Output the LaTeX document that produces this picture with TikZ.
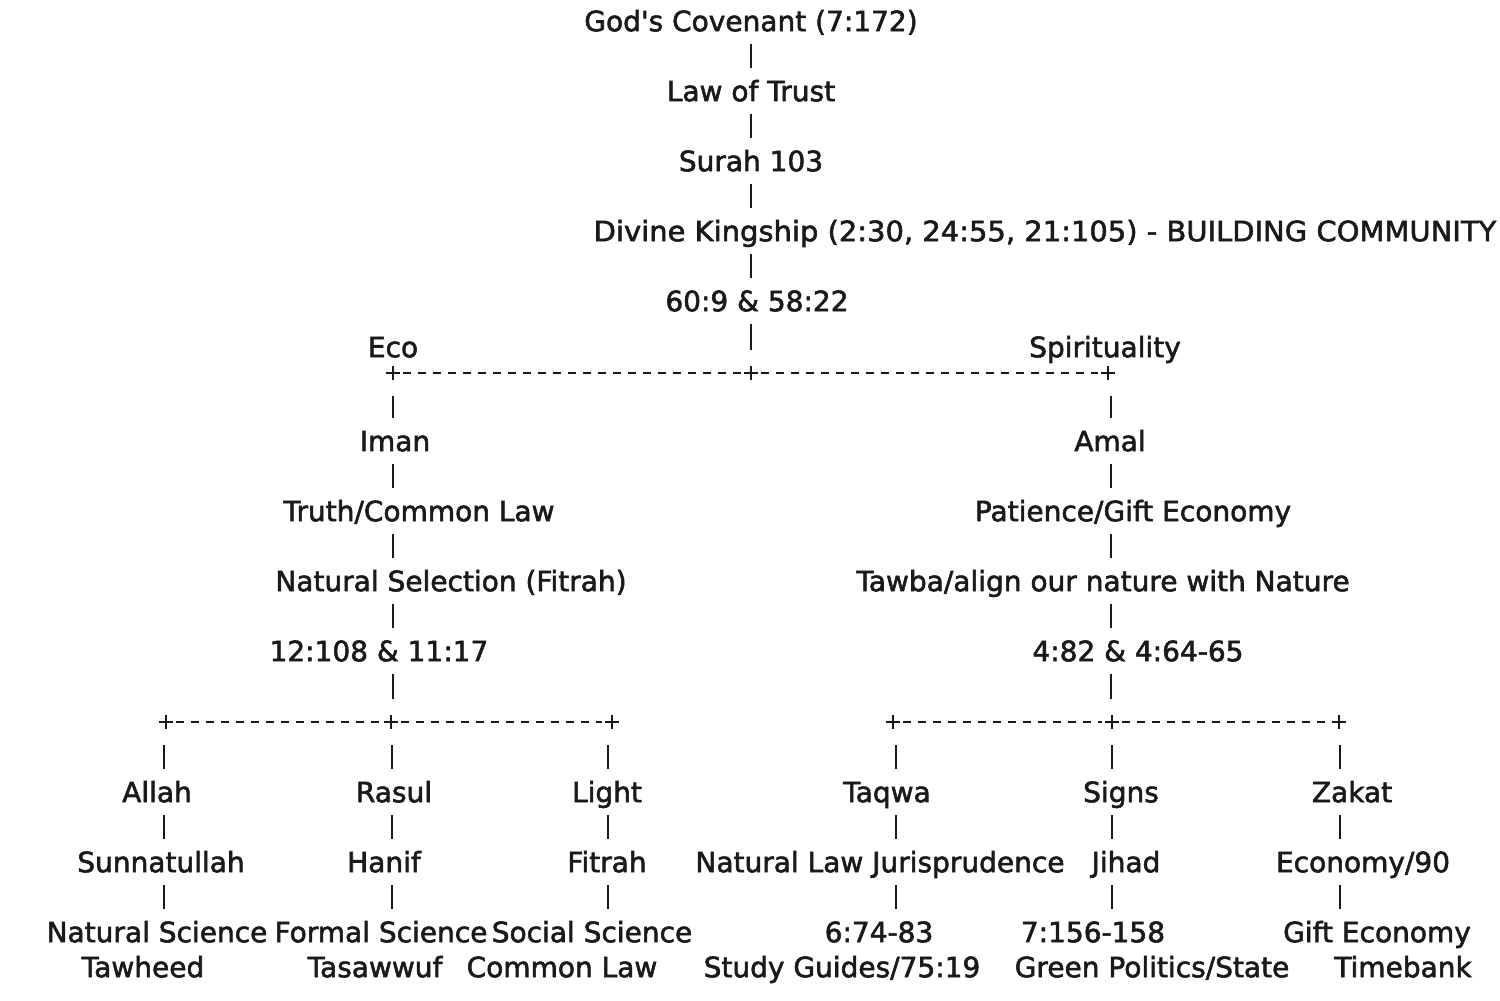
\documentclass[tikz,border=0pt]{standalone}
\usepackage{fontspec}
\setmainfont[FakeBold=2,Ligatures=TeXOff]{DejaVu Sans}
\definecolor{ink}{HTML}{1A1A1A}
\newcommand\plusmark[1]{\draw[bar,line width=2.6pt,shorten <=0pt,shorten >=0pt] (#1) ++(-7,0) -- ++(14,0) (#1) ++(0,-7) -- ++(0,14);}
\begin{document}
\begin{tikzpicture}[x=1pt,y=-1pt,
  lbl/.style={inner sep=0pt,text height=20.4pt,text depth=0pt,minimum height=46pt,
    font=\fontsize{28}{33}\selectfont,text=ink},
  lbltwo/.style={inner sep=0pt,text height=20.4pt,text depth=0pt,
    font=\fontsize{28}{33}\selectfont,text=ink},
  bar/.style={draw=ink,line width=2.6pt},
  dashline/.style={draw=ink,line width=2.6pt,dash pattern=on 8pt off 7pt,shorten <=10pt,shorten >=10pt}]
\useasboundingbox (0,0) rectangle (1500,1001);
% columns
\coordinate (cM) at (751,0);
\coordinate (cL) at (393,0);
\coordinate (cR) at (1111,0);
\coordinate (c1) at (164,0);
\coordinate (c2) at (392,0);
\coordinate (c3) at (608,0);
\coordinate (c4) at (896,0);
\coordinate (c5) at (1112,0);
\coordinate (c6) at (1340,0);
% top chain
\node[lbl] (gc) at (751,21) {God's Covenant (7:172)};
\node[lbl] (lt) at (751,91) {Law of Trust};
\node[lbl] (sr) at (751,161) {Surah 103};
\node[lbl] (dk) at (1045,231) {\scalebox{1.035}[1]{Divine Kingship (2:30, 24:55, 21:105) - BUILDING COMMUNITY}};
\node[lbl] (sx) at (757,301) {60:9 \& 58:22};
\node[lbl] (eco) at (393,347) {Eco};
\node[lbl] (spi) at (1105,347) {Spirituality};
\draw[bar] (cM |- gc.south) -- (cM |- lt.north);
\draw[bar] (cM |- lt.south) -- (cM |- sr.north);
\draw[bar] (cM |- sr.south) -- (cM |- dk.north);
\draw[bar] (cM |- dk.south) -- (cM |- sx.north);
% first split
\coordinate (jL) at (393,373);
\coordinate (jM) at (751,373);
\coordinate (jR) at (1108,373);
\draw[bar,shorten >=23pt] (cM |- sx.south) -- (jM);
\draw[dashline] (jL) -- (jM);
\draw[dashline] (jM) -- (jR);
\plusmark{jL}\plusmark{jM}\plusmark{jR}
% left branch
\node[lbl] (iman) at (395,441) {Iman};
\node[lbl] (tcl) at (419,511) {Truth/Common Law};
\node[lbl] (nsf) at (451,581) {Natural Selection (Fitrah)};
\node[lbl] (lref) at (379,651) {12:108 \& 11:17};
\draw[bar,shorten <=23pt] (jL) -- (cL |- iman.north);
\draw[bar] (cL |- iman.south) -- (cL |- tcl.north);
\draw[bar] (cL |- tcl.south) -- (cL |- nsf.north);
\draw[bar] (cL |- nsf.south) -- (cL |- lref.north);
% right branch
\node[lbl] (amal) at (1110,441) {Amal};
\node[lbl] (pge) at (1133,511) {Patience/Gift Economy};
\node[lbl] (taw) at (1103,581) {Tawba/align our nature with Nature};
\node[lbl] (rref) at (1138,651) {4:82 \& 4:64-65};
\draw[bar,shorten <=23pt] (jR -| cR) -- (cR |- amal.north);
\draw[bar] (cR |- amal.south) -- (cR |- pge.north);
\draw[bar] (cR |- pge.south) -- (cR |- taw.north);
\draw[bar] (cR |- taw.south) -- (cR |- rref.north);
% second level splits
\coordinate (ja) at (166,722);
\coordinate (jb) at (391,722);
\coordinate (jc) at (612,722);
\coordinate (jd) at (893,722);
\coordinate (je) at (1112,722);
\coordinate (jf) at (1339,722);
\draw[bar,shorten >=23pt] (cL |- lref.south) -- (jb -| cL);
\draw[bar,shorten >=23pt] (cR |- rref.south) -- (je -| cR);
\draw[dashline] (ja) -- (jb);
\draw[dashline] (jb) -- (jc);
\draw[dashline] (jd) -- (je);
\draw[dashline] (je) -- (jf);
\plusmark{ja}\plusmark{jb}\plusmark{jc}\plusmark{jd}\plusmark{je}\plusmark{jf}
% leaves row 1
\node[lbl] (allah) at (157,792) {Allah};
\node[lbl] (rasul) at (394,792) {Rasul};
\node[lbl] (light) at (607,792) {Light};
\node[lbl] (taqwa) at (887,792) {Taqwa};
\node[lbl] (signs) at (1121,792) {Signs};
\node[lbl] (zakat) at (1352,792) {Zakat};
% row 2
\node[lbl] (sun) at (161,862) {Sunnatullah};
\node[lbl] (hanif) at (384,862) {Hanif};
\node[lbl] (fitrah) at (607,862) {Fitrah};
\node[lbl] (nlj) at (880,862) {Natural Law Jurisprudence};
\node[lbl] (jihad) at (1126,862) {Jihad};
\node[lbl] (econ) at (1363,862) {Economy/90};
% row 3
\node[lbl] (natsci) at (157,932) {Natural Science};
\node[lbl] (forsci) at (381,932) {Formal Science};
\node[lbl] (socsci) at (592,932) {Social Science};
\node[lbl] (r674) at (879,932) {6:74-83};
\node[lbl] (r7156) at (1093,932) {7:156-158};
\node[lbl] (gift) at (1377,932) {Gift Economy};
% row 4
\node[lbltwo] (tawheed) at (143,967) {Tawheed};
\node[lbltwo] (tasaw) at (375,967) {Tasawwuf};
\node[lbltwo] (comlaw) at (562,967) {Common Law};
\node[lbltwo] (study) at (842,967) {Study Guides/75:19};
\node[lbltwo] (green) at (1152,967) {Green Politics/State};
\node[lbltwo] (timeb) at (1403,967) {Timebank};
% leaf bars
\draw[bar,shorten <=23pt] (ja -| c1) -- (c1 |- allah.north);
\draw[bar,shorten <=23pt] (jb -| c2) -- (c2 |- rasul.north);
\draw[bar,shorten <=23pt] (jc -| c3) -- (c3 |- light.north);
\draw[bar,shorten <=23pt] (jd -| c4) -- (c4 |- taqwa.north);
\draw[bar,shorten <=23pt] (je -| c5) -- (c5 |- signs.north);
\draw[bar,shorten <=23pt] (jf -| c6) -- (c6 |- zakat.north);
\draw[bar] (c1 |- allah.south) -- (c1 |- sun.north);
\draw[bar] (c2 |- rasul.south) -- (c2 |- hanif.north);
\draw[bar] (c3 |- light.south) -- (c3 |- fitrah.north);
\draw[bar] (c4 |- taqwa.south) -- (c4 |- nlj.north);
\draw[bar] (c5 |- signs.south) -- (c5 |- jihad.north);
\draw[bar] (c6 |- zakat.south) -- (c6 |- econ.north);
\draw[bar] (c1 |- sun.south) -- (c1 |- natsci.north);
\draw[bar] (c2 |- hanif.south) -- (c2 |- forsci.north);
\draw[bar] (c3 |- fitrah.south) -- (c3 |- socsci.north);
\draw[bar] (c4 |- nlj.south) -- (c4 |- r674.north);
\draw[bar] (c5 |- jihad.south) -- (c5 |- r7156.north);
\draw[bar] (c6 |- econ.south) -- (c6 |- gift.north);
\end{tikzpicture}
\end{document}
